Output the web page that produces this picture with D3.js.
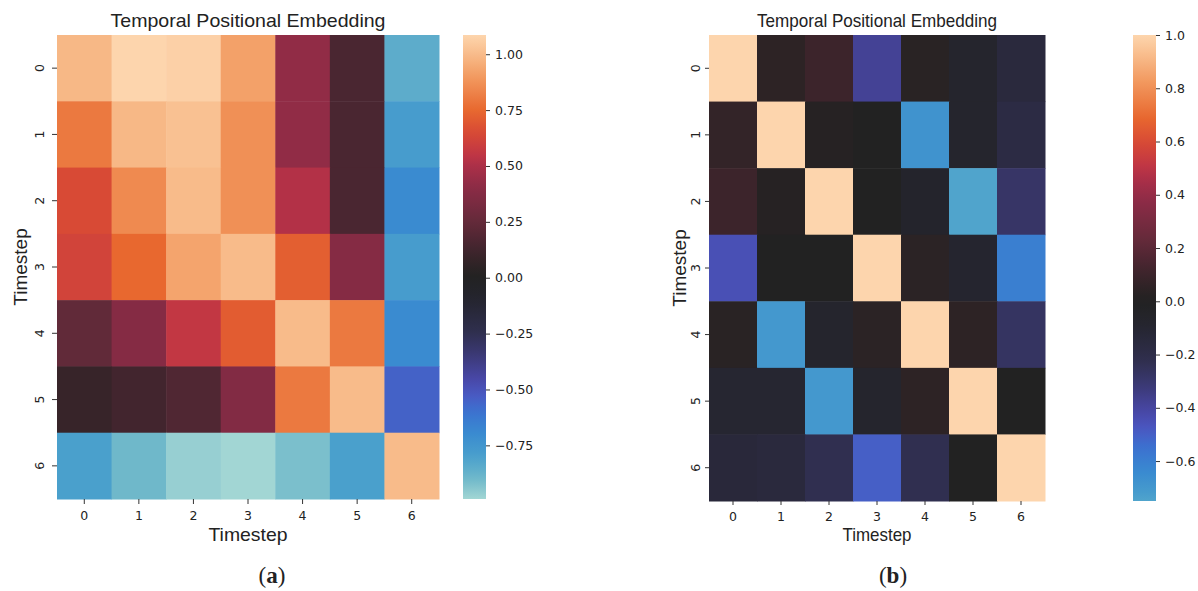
<!DOCTYPE html>
<html lang="en">

<head>
    <meta charset="UTF-8">
    <title>Temporal Positional Embedding</title>
    <script src="https://d3js.org/d3.v7.min.js"></script>
    <style>
        body { margin: 0; background: #fff; }
        text { fill: #222; }
    </style>
</head>

<body>
    <div id="chart"></div>

    <script>
        const width = 1198;
        const height = 591;

        // timestep labels, used for both axes of both heatmaps
        const timesteps = [0, 1, 2, 3, 4, 5, 6];

        // (a) raw embedding similarity (rows = y timestep, cols = x timestep)
        const embedA = [
            [0.99, 1.086, 1.07, 0.92, 0.42, 0.16, -0.85],
            [0.80, 0.99, 1.02, 0.87, 0.42, 0.16, -0.78],
            [0.65, 0.85, 1.00, 0.87, 0.52, 0.16, -0.70],
            [0.62, 0.75, 0.93, 1.00, 0.72, 0.38, -0.78],
            [0.24, 0.38, 0.56, 0.71, 1.00, 0.80, -0.70],
            [0.09, 0.13, 0.18, 0.37, 0.80, 1.00, -0.55],
            [-0.80, -0.90, -0.97, -0.99, -0.92, -0.80, 1.00]
        ];

        // (b) normalised embedding similarity
        const embedB = [
            [1.00, 0.05, 0.10, -0.38, 0.03, -0.08, -0.15],
            [0.07, 1.00, 0.02, 0.00, -0.68, -0.08, -0.18],
            [0.10, 0.02, 1.00, 0.00, -0.07, -0.75, -0.28],
            [-0.45, 0.00, 0.00, 1.00, 0.04, -0.09, -0.60],
            [0.03, -0.70, -0.08, 0.04, 1.00, 0.05, -0.27],
            [-0.10, -0.10, -0.70, -0.08, 0.05, 1.00, 0.00],
            [-0.14, -0.15, -0.23, -0.50, -0.23, 0.00, 1.00]
        ];

        const cbarTicksA = [1.00, 0.75, 0.50, 0.25, 0.00, -0.25, -0.50, -0.75];
        const cbarTicksB = [1.0, 0.8, 0.6, 0.4, 0.2, 0.0, -0.2, -0.4, -0.6];

        // icefire-like colormap
        const icefireT = [0, 0.044, 0.086, 0.132, 0.178, 0.224, 0.26, 0.293, 0.339, 0.385, 0.454, 0.5,
            0.523, 0.569, 0.615, 0.684, 0.73, 0.753, 0.799, 0.845, 0.914, 0.96, 1];
        const icefireColors = ["#bce7db", "#a2d6d4", "#6fb8ca", "#4aa0cc", "#3a8bd0", "#3b72d0", "#4a58c2",
            "#4847a6", "#3c3a78", "#302f50", "#25252f", "#222222", "#2c2325", "#472530", "#642a3a",
            "#8a2b46", "#ab2f48", "#bf3545", "#d84a35", "#e8682f", "#f29a60", "#f8bb8a", "#fdd5ad"];
        const icefire = d3.scaleLinear().domain(icefireT).range(icefireColors).clamp(true);

        const panels = [
            {
                data: embedA, ticks: cbarTicksA, fmt: ".2f", letter: "a",
                x0: 57, x1: 439, y0: 35, y1: 499, cx0: 463, cx1: 486,
                ytickOff: 17, ylabelX: 20, captionX: 272,
                titleLen: 275, xlabelLen: 79, tickLen: 5
            },
            {
                data: embedB, ticks: cbarTicksB, fmt: ".1f", letter: "b",
                x0: 709, x1: 1045, y0: 35, y1: 501, cx0: 1133, cx1: 1156,
                ytickOff: 13, ylabelX: 679, captionX: 893,
                titleLen: 240, xlabelLen: 69, tickLen: 4
            }
        ];

        const svg = d3.select("#chart")
            .append("svg")
            .attr("width", width)
            .attr("height", height);

        svg.append("rect").attr("width", width).attr("height", height).attr("fill", "#fff");
        const defs = svg.append("defs");

        panels.forEach(p => {
            const flat = p.data.flat();
            const [vmin, vmax] = d3.extent(flat);
            // seaborn centres the map on 0 and keeps the range symmetric
            const vrange = Math.max(vmax, -vmin);
            const color = v => icefire((v + vrange) / (2 * vrange));

            const xScale = d3.scaleBand().domain(timesteps).range([p.x0, p.x1]);
            const yScale = d3.scaleBand().domain(timesteps).range([p.y0, p.y1]);

            const cells = [];
            p.data.forEach((row, i) => row.forEach((v, j) => cells.push({ r: i, c: j, v: v })));

            svg.append("g")
                .selectAll("rect")
                .data(cells)
                .join("rect")
                .attr("x", d => xScale(d.c))
                .attr("y", d => yScale(d.r))
                .attr("width", xScale.bandwidth() + 0.5)
                .attr("height", yScale.bandwidth() + 0.5)
                .attr("fill", d => color(d.v));

            // x axis
            const xAxis = svg.append("g")
                .attr("transform", `translate(0,${p.y1})`)
                .call(d3.axisBottom(xScale).tickSize(p.tickLen).tickPadding(7));
            xAxis.select(".domain").remove();
            xAxis.selectAll("line").attr("stroke", "#333");
            xAxis.selectAll("text")
                .style("font-family", "'DejaVu Sans'")
                .style("font-size", "12.5px")
                .attr("fill", "#222");

            // y axis with rotated labels
            const yAxis = svg.append("g")
                .attr("transform", `translate(${p.x0},0)`)
                .call(d3.axisLeft(yScale).tickSize(p.tickLen));
            yAxis.select(".domain").remove();
            yAxis.selectAll("line").attr("stroke", "#333");
            yAxis.selectAll("text")
                .attr("x", null)
                .attr("dy", "0.35em")
                .attr("text-anchor", "middle")
                .attr("transform", `translate(${-p.ytickOff},0) rotate(-90)`)
                .style("font-family", "'DejaVu Sans'")
                .style("font-size", "12.5px")
                .attr("fill", "#222");

            // title and axis labels
            svg.append("text")
                .attr("x", (p.x0 + p.x1) / 2)
                .attr("y", 27)
                .attr("text-anchor", "middle")
                .attr("textLength", p.titleLen)
                .attr("lengthAdjust", "spacingAndGlyphs")
                .style("font-family", "'Liberation Sans', Arial, sans-serif")
                .style("font-size", "19px")
                .text("Temporal Positional Embedding");

            svg.append("text")
                .attr("x", (p.x0 + p.x1) / 2)
                .attr("y", 541)
                .attr("text-anchor", "middle")
                .attr("textLength", p.xlabelLen)
                .attr("lengthAdjust", "spacingAndGlyphs")
                .style("font-family", "'Liberation Sans', Arial, sans-serif")
                .style("font-size", "19px")
                .text("Timestep");

            svg.append("text")
                .attr("transform", `translate(${p.ylabelX + 7},${(p.y0 + p.y1) / 2}) rotate(-90)`)
                .attr("text-anchor", "middle")
                .style("font-family", "'Liberation Sans', Arial, sans-serif")
                .style("font-size", "19px")
                .text("Timestep");

            // colorbar
            const gradId = "grad-" + p.letter;
            const grad = defs.append("linearGradient")
                .attr("id", gradId)
                .attr("x1", 0).attr("y1", 1).attr("x2", 0).attr("y2", 0);
            d3.range(0, 1.0001, 0.02).forEach(f => {
                grad.append("stop")
                    .attr("offset", f)
                    .attr("stop-color", color(vmin + f * (vmax - vmin)));
            });
            svg.append("rect")
                .attr("x", p.cx0)
                .attr("y", p.y0)
                .attr("width", p.cx1 - p.cx0)
                .attr("height", p.y1 - p.y0)
                .attr("fill", `url(#${gradId})`);

            const cScale = d3.scaleLinear().domain([vmin, vmax]).range([p.y1, p.y0]);
            const cAxis = svg.append("g")
                .attr("transform", `translate(${p.cx1},0)`)
                .call(d3.axisRight(cScale).tickValues(p.ticks).tickSize(4).tickPadding(5)
                    .tickFormat(d3.format(p.fmt)));
            cAxis.select(".domain").remove();
            cAxis.selectAll("line").attr("stroke", "#333");
            cAxis.selectAll("text")
                .style("font-family", "'DejaVu Sans'")
                .style("font-size", "12.5px")
                .attr("fill", "#222");

            // caption (a) / (b)
            const cap = svg.append("text")
                .attr("x", p.captionX)
                .attr("y", 583)
                .attr("text-anchor", "middle")
                .style("font-family", "'Liberation Serif', serif")
                .style("font-size", "23px");
            cap.append("tspan").text("(");
            cap.append("tspan").style("font-weight", "bold").text(p.letter);
            cap.append("tspan").text(")");
        });
    </script>
</body>

</html>
